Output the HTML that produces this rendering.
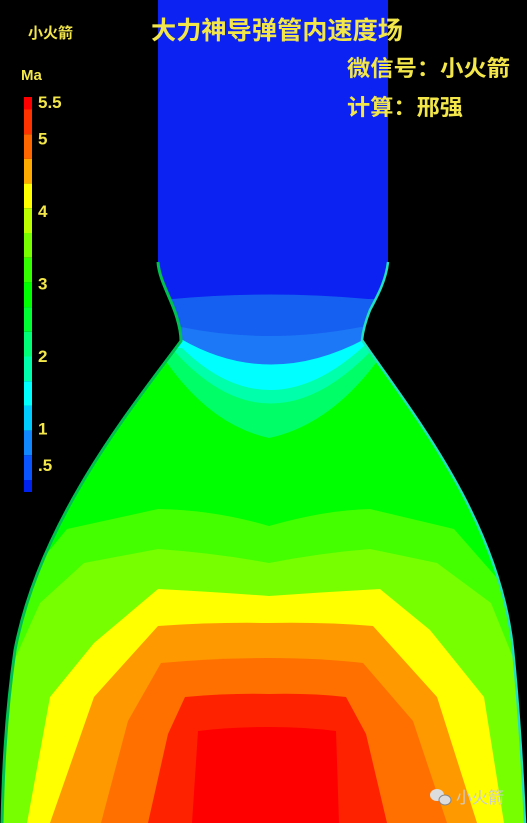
<!DOCTYPE html>
<html><head><meta charset="utf-8"><style>
html,body{margin:0;padding:0;background:#000;}
svg{display:block;}
text{font-family:"Liberation Sans","Noto Sans CJK SC",sans-serif;font-weight:bold;}
</style></head><body>
<svg id="c" width="527" height="823" viewBox="0 0 527 823" xmlns="http://www.w3.org/2000/svg">
<rect width="527" height="823" fill="#000"/>
<defs>
<clipPath id="nz"><path d="M158,0 L158,262 C159,280 172,300 177,318 C180,328 181,335 181,341 C130,410 40,520 15,650 C5,720 3,780 2,823 L525,823 C523,780 520,720 513,650 C500,520 410,410 362,340 C363,330 366,320 370,310 C378,295 386,280 388,262 L388,0 Z"/></clipPath>
</defs>
<g clip-path="url(#nz)">
<rect x="0" y="0" width="527" height="823" fill="#00ff22"/>
<g id="bands"></g>
</g>
<path d="M158,262 C159,280 172,300 177,318 C180,328 181,335 181,341 C130,410 40,520 15,650 C5,720 3,780 2,823" fill="none" stroke="#00c050" stroke-width="3"/>
<path d="M388,262 C386,280 378,295 370,310 C366,320 363,330 362,340 C410,410 500,520 513,650 C520,720 523,780 525,823" fill="none" stroke="#22e0c0" stroke-width="2.5"/>
<g id="cbar"></g>
<text x="28" y="38" font-size="15" fill="#f2e64a">小火箭</text>
<text x="151" y="39" font-size="25" fill="#f2e64a" textLength="252" lengthAdjust="spacingAndGlyphs">大力神导弹管内速度场</text>
<text x="347" y="76" font-size="22" fill="#f2e64a" textLength="163" lengthAdjust="spacingAndGlyphs">微信号：小火箭</text>
<text x="347" y="115" font-size="22" fill="#f2e64a" textLength="116" lengthAdjust="spacingAndGlyphs">计算：邢强</text>
<text x="21" y="80" font-size="15" fill="#f2e64a">Ma</text>
<g>
<ellipse cx="437" cy="795" rx="7" ry="6" fill="#ddd"/><ellipse cx="445" cy="800" rx="6" ry="5" fill="#ddd" stroke="#888" stroke-width="1"/>
<text x="456" y="803" font-size="16" fill="#ccc" style="font-weight:normal">小火箭</text>
</g>
</svg>
<script>
// contour band thresholds and colors (lowest to highest)
const bandLevels=[0.3,0.6,0.9,1.3,1.6,1.8,2.0,3.3,3.6,4.0,4.4,4.8,5.1,5.3];
const bandColors=["#0b22f2","#1560f0","#1c78f6","#00ffff","#00ffaa","#00ff66","#00ff00","#44ff00","#77ff00","#ffff00","#ff9900","#ff7000","#ff2200","#ff0000"];
const bandPaths=[
"M0,0 L527,0 L527,823 L0,823Z",
"M0,299 L173,299 Q269,290 368,299 L527,299 L527,823 L0,823Z",
"M0,327 L181,327 Q269,345 361,327 L527,327 L527,823 L0,823Z",
"M0,339 L181,339 Q269,390 365,339 L527,339 L527,823 L0,823Z",
"M0,345 L182,348 Q269,433 364,346 L527,345 L527,823 L0,823Z",
"M0,352 L175,352 Q269,455 370,352 L527,352 L527,823 L0,823Z",
"M0,358 L165,360 Q210,425 269,438 Q330,425 378,360 L527,358 L527,823 L0,823Z",
"M0,590 L20,586 L67,529 L158,509 Q215,510 269,526 Q325,510 370,509 L454,529 L504,586 L527,590 L527,823 L0,823Z",
"M0,670 L10,670 L40,603 L84,563 L158,549 Q215,553 269,563 Q320,553 370,549 L437,563 L491,603 L518,670 L527,670 L527,823 L0,823Z",
"M27,823 L50,697 L94,643 L158,589 Q215,592 269,596 Q325,592 380,589 L430,630 L484,697 L504,823Z",
"M50,823 L94,697 L158,626 Q215,622 269,623 Q325,622 373,626 L437,697 L477,823Z",
"M101,823 L128,721 L161,663 Q215,658 269,658 Q320,658 363,663 L413,721 L447,823Z",
"M148,823 L168,734 L185,697 Q230,693 269,694 Q310,693 346,697 L366,734 L387,823Z",
"M192,823 L198,731 Q230,727 269,727 Q305,727 336,731 L339,823Z"
];
const bg=document.getElementById('bands');
const NS="http://www.w3.org/2000/svg";
bandPaths.forEach((d,i)=>{const p=document.createElementNS(NS,'path');p.setAttribute('d',d);p.setAttribute('fill',bandColors[i]);


bg.appendChild(p);});
// colorbar
const cbColors=["#ff0000","#ff3300","#ff6600","#ffaa00","#ffff00","#bbff00","#77ff00","#33ff00","#00ff00","#00ff33","#00ff77","#00ffaa","#00ffff","#00ccff","#1188ff","#0a55ff","#0022ee"];
const tickLabels=["5.5","5","4","3","2","1",".5"];
const tickValues=[5.5,5,4,3,2,1,0.5];
function yScale(v){return 102+(5.5-v)*72.6;}
const cb=document.getElementById('cbar');
const cbTop=97, cbBot=492, segH=24.7;
cbColors.forEach((c,i)=>{
let y1=i==0?cbTop:cbTop+12.5+(i-1)*segH;
let y2=i==0?cbTop+12.5:Math.min(cbBot,cbTop+12.5+i*segH);
if(i==cbColors.length-1)y2=cbBot;
const r=document.createElementNS(NS,'rect');r.setAttribute('x',24);r.setAttribute('y',y1);r.setAttribute('width',8);r.setAttribute('height',y2-y1);r.setAttribute('fill',c);


cb.appendChild(r);});
tickLabels.forEach((t,i)=>{const tx=document.createElementNS(NS,'text');tx.setAttribute('x',38);tx.setAttribute('y',yScale(tickValues[i])+6);tx.setAttribute('font-size','17');tx.setAttribute('fill','#f2e64a');tx.textContent=t;


cb.appendChild(tx);});
</script>
</body></html>
